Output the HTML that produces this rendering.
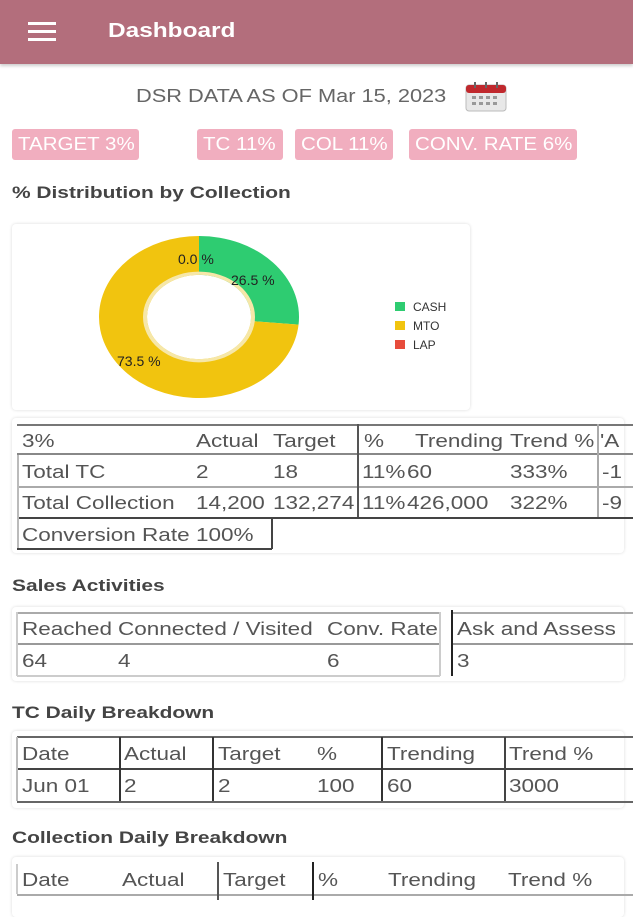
<!DOCTYPE html>
<html><head><meta charset="utf-8"><style>
*{margin:0;padding:0;box-sizing:border-box}
body{width:633px;height:900px;overflow:hidden;background:#fff;font-family:"Liberation Sans",sans-serif;position:relative}
.a{position:absolute;white-space:nowrap}
.s{transform:scaleX(1.22);transform-origin:0 50%}
.hdr{left:0;top:0;width:633px;height:64px;background:#b36e7c;box-shadow:0 2px 3px rgba(0,0,0,.2)}
.badge{height:31px;top:129px;background:#f1aebf;color:#fff;font-size:18px;line-height:31px;padding-left:6px;border-radius:3px}
.badge span{display:inline-block;transform:scaleX(1.14);transform-origin:0 50%}
.title{font-size:17px;font-weight:bold;color:#444;transform:scaleX(1.23);transform-origin:0 50%}
.t{font-size:18px;color:#555;transform:scaleX(1.25);transform-origin:0 50%}
.hl{height:0;border-top:2px solid #666}
.vl{width:0;border-left:2px solid #555}
.card{border-radius:4px;box-shadow:0 0 3px rgba(0,0,0,.15);background:#fff}
</style></head><body>
<div class="a hdr"></div>
<div class="a" style="left:28px;top:22px;width:28px;height:3px;background:#fff;box-shadow:0 8px 0 #fff,0 16px 0 #fff"></div>
<div class="a s" style="left:108px;top:20px;font-size:20px;font-weight:bold;color:#fff">Dashboard</div>

<div class="a s" style="left:136px;top:86px;font-size:18px;color:#666;transform:scaleX(1.21)">DSR DATA AS OF Mar 15, 2023</div>
<svg class="a" style="left:465px;top:82px" width="42" height="30" viewBox="0 0 42 30">
<rect x="1" y="3" width="40" height="26" rx="3" fill="#e8e8e8" stroke="#bbb"/>
<rect x="1" y="3" width="40" height="8" rx="3" fill="#c0282d"/>
<g fill="#999"><rect x="7" y="14" width="4" height="3"/><rect x="14" y="14" width="4" height="3"/><rect x="21" y="14" width="4" height="3"/><rect x="28" y="14" width="4" height="3"/><rect x="7" y="20" width="4" height="3"/><rect x="14" y="20" width="4" height="3"/><rect x="21" y="20" width="4" height="3"/><rect x="28" y="20" width="4" height="3"/></g>
<g fill="#666"><rect x="9" y="0" width="2" height="6"/><rect x="20" y="0" width="2" height="6"/><rect x="31" y="0" width="2" height="6"/></g>
</svg>

<div class="a badge" style="left:12px;width:127px"><span>TARGET 3%</span></div>
<div class="a badge" style="left:197px;width:86px"><span>TC 11%</span></div>
<div class="a badge" style="left:295px;width:98px"><span>COL 11%</span></div>
<div class="a badge" style="left:409px;width:168px"><span>CONV. RATE 6%</span></div>

<div class="a title" style="left:12px;top:183px">% Distribution by Collection</div>
<div class="a card" style="left:12px;top:224px;width:458px;height:186px"></div>
<svg class="a" style="left:0;top:0" width="633" height="420">
<g transform="translate(199,317) scale(1,0.81)">
<path d="M0,-100 A100,100 0 0 1 99.56,9.4 L51.8,4.9 A52,52 0 0 0 0,-52 Z" fill="#2ecc71"/>
<path d="M99.56,9.4 A100,100 0 1 1 0,-100 L0,-52 A52,52 0 1 0 51.8,4.9 Z" fill="#f1c40f"/>
<circle r="54" fill="none" stroke="#f6e7a8" stroke-width="4"/>
</g>
<g font-family="Liberation Sans,sans-serif" font-size="14" fill="#222">
<text x="178" y="264">0.0 %</text><text x="231" y="285">26.5 %</text><text x="117" y="366">73.5 %</text>
</g>
<g font-family="Liberation Sans,sans-serif" font-size="12" fill="#333">
<rect x="395" y="302" width="10" height="9" fill="#2ecc71"/><text x="413" y="311">CASH</text>
<rect x="395" y="321" width="10" height="9" fill="#f1c40f"/><text x="413" y="330">MTO</text>
<rect x="395" y="340" width="10" height="9" fill="#e74c3c"/><text x="413" y="349">LAP</text>
</g>
</svg>

<!-- table 1 -->
<div class="a card" style="left:12px;top:418px;width:612px;height:135px"></div>
<div class="a hl" style="left:17px;top:424px;width:616px;border-color:#777"></div>
<div class="a hl" style="left:17px;top:453px;width:616px;border-color:#888"></div>
<div class="a hl" style="left:17px;top:486px;width:616px;border-color:#aaa"></div>
<div class="a hl" style="left:17px;top:517px;width:616px;border-color:#444"></div>
<div class="a hl" style="left:17px;top:548px;width:255px;border-color:#444"></div>
<div class="a vl" style="left:17px;top:455px;height:93px;border-color:#bbb"></div>
<div class="a vl" style="left:271px;top:517px;height:32px;border-color:#444"></div>
<div class="a vl" style="left:357px;top:424px;height:93px"></div>
<div class="a vl" style="left:597px;top:424px;height:93px;border-color:#aaa"></div>
<div class="a t" style="left:22px;top:431px">3%</div>
<div class="a t" style="left:196px;top:431px">Actual</div>
<div class="a t" style="left:273px;top:431px">Target</div>
<div class="a t" style="left:364px;top:431px">%</div>
<div class="a t" style="left:415px;top:431px">Trending</div>
<div class="a t" style="left:510px;top:431px">Trend %</div>
<div class="a t" style="left:600px;top:431px">'A</div>
<div class="a t" style="left:22px;top:462px">Total TC</div>
<div class="a t" style="left:196px;top:462px">2</div>
<div class="a t" style="left:273px;top:462px">18</div>
<div class="a t" style="left:362px;top:462px">11%</div>
<div class="a t" style="left:407px;top:462px">60</div>
<div class="a t" style="left:510px;top:462px">333%</div>
<div class="a t" style="left:602px;top:462px">-1</div>
<div class="a t" style="left:22px;top:493px">Total Collection</div>
<div class="a t" style="left:196px;top:493px">14,200</div>
<div class="a t" style="left:273px;top:493px">132,274</div>
<div class="a t" style="left:362px;top:493px">11%</div>
<div class="a t" style="left:407px;top:493px">426,000</div>
<div class="a t" style="left:510px;top:493px">322%</div>
<div class="a t" style="left:602px;top:493px">-9</div>
<div class="a t" style="left:22px;top:525px">Conversion Rate</div>
<div class="a t" style="left:196px;top:525px">100%</div>

<div class="a title" style="left:12px;top:576px">Sales Activities</div>
<div class="a card" style="left:12px;top:607px;width:612px;height:74px"></div>
<div class="a hl" style="left:17px;top:612px;width:423px;border-color:#aaa"></div>
<div class="a hl" style="left:17px;top:643px;width:423px;border-color:#999"></div>
<div class="a hl" style="left:17px;top:675px;width:423px;border-color:#ccc"></div>
<div class="a vl" style="left:16px;top:612px;height:64px;border-color:#ccc"></div>
<div class="a vl" style="left:439px;top:612px;height:64px;border-color:#ccc"></div>
<div class="a hl" style="left:452px;top:612px;width:181px;border-color:#aaa"></div>
<div class="a hl" style="left:452px;top:643px;width:181px;border-color:#999"></div>
<div class="a vl" style="left:451px;top:610px;height:66px;border-color:#222"></div>
<div class="a t" style="left:22px;top:619px">Reached</div>
<div class="a t" style="left:118px;top:619px">Connected / Visited</div>
<div class="a t" style="left:327px;top:619px">Conv. Rate</div>
<div class="a t" style="left:457px;top:619px">Ask and Assess</div>
<div class="a t" style="left:22px;top:651px">64</div>
<div class="a t" style="left:118px;top:651px">4</div>
<div class="a t" style="left:327px;top:651px">6</div>
<div class="a t" style="left:457px;top:651px">3</div>

<div class="a title" style="left:12px;top:703px">TC Daily Breakdown</div>
<div class="a card" style="left:12px;top:731px;width:612px;height:77px"></div>
<div class="a hl" style="left:17px;top:736px;width:616px"></div>
<div class="a hl" style="left:17px;top:768px;width:616px;border-color:#444"></div>
<div class="a hl" style="left:17px;top:801px;width:616px"></div>
<div class="a vl" style="left:16px;top:737px;height:64px;border-color:#bbb"></div>
<div class="a vl" style="left:119px;top:737px;height:64px;border-color:#333"></div>
<div class="a vl" style="left:212px;top:737px;height:64px;border-color:#333"></div>
<div class="a vl" style="left:381px;top:737px;height:64px;border-color:#333"></div>
<div class="a vl" style="left:504px;top:737px;height:64px;border-color:#444"></div>
<div class="a t" style="left:22px;top:744px">Date</div>
<div class="a t" style="left:124px;top:744px">Actual</div>
<div class="a t" style="left:218px;top:744px">Target</div>
<div class="a t" style="left:317px;top:744px">%</div>
<div class="a t" style="left:387px;top:744px">Trending</div>
<div class="a t" style="left:509px;top:744px">Trend %</div>
<div class="a t" style="left:22px;top:776px">Jun 01</div>
<div class="a t" style="left:124px;top:776px">2</div>
<div class="a t" style="left:218px;top:776px">2</div>
<div class="a t" style="left:317px;top:776px">100</div>
<div class="a t" style="left:387px;top:776px">60</div>
<div class="a t" style="left:509px;top:776px">3000</div>

<div class="a title" style="left:12px;top:828px">Collection Daily Breakdown</div>
<div class="a card" style="left:12px;top:857px;width:612px;height:60px"></div>
<div class="a hl" style="left:17px;top:894px;width:616px;border-color:#aaa"></div>
<div class="a vl" style="left:16px;top:864px;height:30px;border-color:#ccc"></div>
<div class="a vl" style="left:217px;top:862px;height:38px;border-color:#555"></div>
<div class="a vl" style="left:312px;top:862px;height:38px;border-color:#222"></div>
<div class="a t" style="left:22px;top:870px">Date</div>
<div class="a t" style="left:122px;top:870px">Actual</div>
<div class="a t" style="left:223px;top:870px">Target</div>
<div class="a t" style="left:318px;top:870px">%</div>
<div class="a t" style="left:388px;top:870px">Trending</div>
<div class="a t" style="left:508px;top:870px">Trend %</div>
</body></html>
